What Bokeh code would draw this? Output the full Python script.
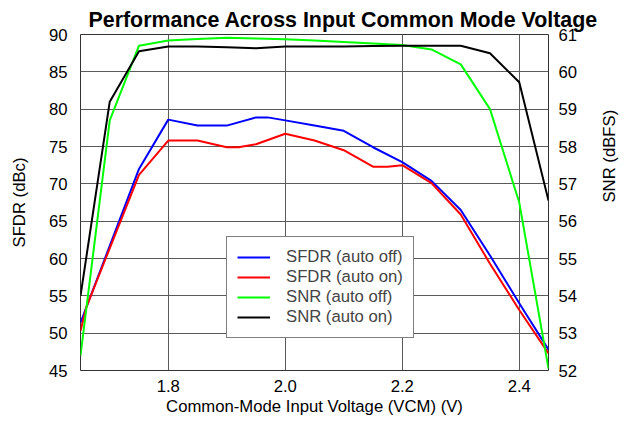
import math
from bokeh.plotting import figure
from bokeh.models import (Range1d, LinearAxis, FixedTicker, Legend, LegendItem)
from bokeh.embed import file_html
from bokeh.resources import INLINE

# ---- data ----
x_sfdr_off = [1.65, 1.75, 1.80, 1.85, 1.90, 1.95, 1.97, 2.00, 2.05, 2.10, 2.15, 2.20, 2.25, 2.30, 2.35, 2.40, 2.45]
sfdr_off = [51.4, 72.0, 78.6, 77.8, 77.8, 78.9, 78.9, 78.5, 77.8, 77.1, 74.9, 72.9, 70.4, 66.5, 60.4, 54.0, 47.8]

x_sfdr_on = [1.65, 1.66, 1.75, 1.80, 1.85, 1.90, 1.92, 1.95, 2.00, 2.05, 2.10, 2.15, 2.175, 2.20, 2.25, 2.30, 2.35, 2.40, 2.45]
sfdr_on = [50.3, 53.5, 71.2, 75.8, 75.8, 74.9, 74.9, 75.3, 76.7, 75.8, 74.5, 72.3, 72.3, 72.5, 70.1, 65.9, 59.3, 53.1, 47.3]

x_snr = [1.65, 1.70, 1.75, 1.80, 1.85, 1.90, 1.95, 2.00, 2.05, 2.10, 2.15, 2.20, 2.25, 2.30, 2.35, 2.40, 2.45]
snr_off = [52.4, 58.7, 60.7, 60.84, 60.88, 60.91, 60.89, 60.87, 60.84, 60.80, 60.76, 60.72, 60.60, 60.20, 59.0, 56.5, 52.05]
snr_on = [54.0, 59.2, 60.55, 60.68, 60.68, 60.66, 60.63, 60.68, 60.68, 60.68, 60.69, 60.70, 60.70, 60.70, 60.50, 59.72, 56.55]

x_ticks = [1.8, 2.0, 2.2, 2.4]
x_tick_labels = ["1.8", "2.0", "2.2", "2.4"]
left_ticks = [45, 50, 55, 60, 65, 70, 75, 80, 85, 90]
right_ticks = [52, 53, 54, 55, 56, 57, 58, 59, 60, 61]

series_names = ["SFDR (auto off)", "SFDR (auto on)", "SNR (auto off)", "SNR (auto on)"]
series_colors = ["#0000ff", "#ff0000", "#00ff00", "#000000"]

title_text = "Performance Across Input Common Mode Voltage"
x_label_text = "Common-Mode Input Voltage (VCM) (V)"
left_label_text = "SFDR (dBc)"
right_label_text = "SNR (dBFS)"

FONT = "Liberation Sans"
FS = "16.7px"

p = figure(width=631, height=421, output_backend="svg", toolbar_location=None,
           x_range=Range1d(1.65, 2.45), y_range=Range1d(45, 90),
           min_border_left=80, min_border_right=81, min_border_top=34, min_border_bottom=51)
p.extra_y_ranges = {"snr": Range1d(52, 61)}

p.title.text = title_text
p.title.text_font = FONT
p.title.text_font_size = "21.4px"
p.title.text_font_style = "bold"
p.title.text_color = "black"
p.title.align = "left"
p.title.offset = 8
p.title.standoff = 5

p.outline_line_color = "#333333"
p.outline_line_width = 1
p.background_fill_color = "white"
p.border_fill_color = "white"

r1 = p.line(x_sfdr_off, sfdr_off, line_color=series_colors[0], line_width=2)
r2 = p.line(x_sfdr_on, sfdr_on, line_color=series_colors[1], line_width=2)
r3 = p.line(x_snr, snr_off, line_color=series_colors[2], line_width=2, y_range_name="snr")
r4 = p.line(x_snr, snr_on, line_color=series_colors[3], line_width=2, y_range_name="snr")

def style_axis(ax, standoff, label_standoff):
    ax.axis_line_color = None
    ax.major_tick_line_color = None
    ax.minor_tick_line_color = None
    ax.major_tick_in = 0
    ax.major_tick_out = 0
    ax.minor_tick_in = 0
    ax.minor_tick_out = 0
    ax.major_label_text_font = FONT
    ax.major_label_text_font_size = FS
    ax.major_label_text_color = "black"
    ax.major_label_standoff = standoff
    ax.axis_label_text_font = FONT
    ax.axis_label_text_font_size = FS
    ax.axis_label_text_font_style = "normal"
    ax.axis_label_text_color = "black"
    ax.axis_label_standoff = label_standoff

p.xaxis.ticker = FixedTicker(ticks=x_ticks)
p.xaxis.major_label_overrides = dict(zip(x_ticks, x_tick_labels))
p.xaxis.axis_label = x_label_text
style_axis(p.xaxis[0], 9, 2)

p.yaxis.ticker = FixedTicker(ticks=left_ticks)
p.yaxis.axis_label = left_label_text
style_axis(p.yaxis[0], 13, 17)

right_axis = LinearAxis(y_range_name="snr", ticker=FixedTicker(ticks=right_ticks),
                        axis_label=right_label_text)
style_axis(right_axis, 10, 29)
try:
    right_axis.axis_label_orientation = math.pi / 2
except Exception:
    pass
p.add_layout(right_axis, "right")

p.xgrid.ticker = FixedTicker(ticks=x_ticks)
p.ygrid.ticker = FixedTicker(ticks=left_ticks)
for g in (p.xgrid[0], p.ygrid[0]):
    g.grid_line_color = "#5a5a5a"
    g.grid_line_width = 1

legend = Legend(items=[LegendItem(label=n, renderers=[r]) for n, r in zip(series_names, [r1, r2, r3, r4])],
                location=(146, 32))
legend.border_line_color = "black"
legend.border_line_width = 1
legend.background_fill_color = "white"
legend.background_fill_alpha = 1
legend.label_text_font = FONT
legend.label_text_font_size = FS
legend.glyph_width = 33
legend.glyph_height = 20
legend.label_height = 20
legend.spacing = 0
legend.padding = 10
legend.label_standoff = 16
legend.margin = 0
p.add_layout(legend, "center")

open("out.html", "w").write(file_html(p, INLINE))
